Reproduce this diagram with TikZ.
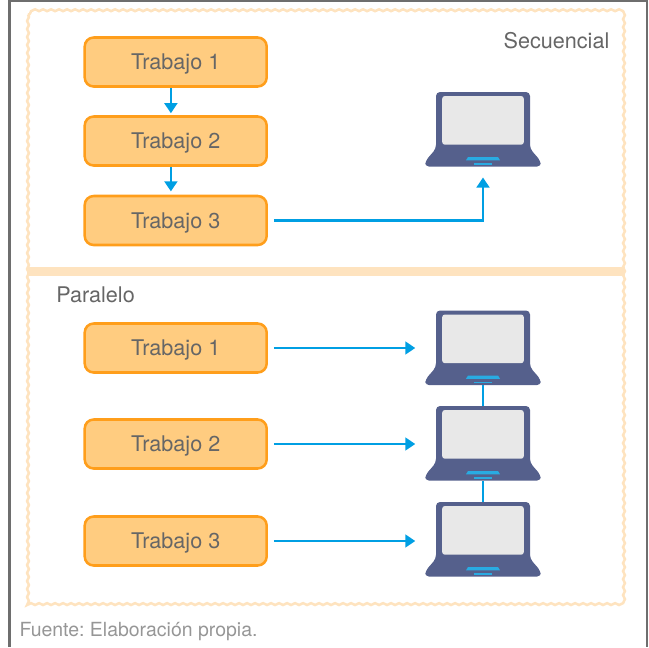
\documentclass[tikz,border=0pt]{standalone}
\usepackage{fontspec}
\setmainfont{TeX Gyre Heros}
\usetikzlibrary{arrows.meta,decorations.pathmorphing}
\definecolor{framegray}{HTML}{6E6E6E}
\definecolor{textgray}{HTML}{666666}
\definecolor{notegray}{HTML}{969696}
\definecolor{palepeach}{HTML}{FEE3BF}
\definecolor{boxfill}{HTML}{FFCC80}
\definecolor{boxline}{HTML}{FF9E1B}
\definecolor{flowblue}{HTML}{009FE3}
\definecolor{padblue}{HTML}{29ABE2}
\definecolor{lapblue}{HTML}{55608C}
\definecolor{lapscreen}{HTML}{E8E8E8}
\tikzset{
	trabajo/.style = {draw=boxline, fill=boxfill, line width=1.9pt, rounded corners=6.75pt, minimum width=136.5pt, minimum height=36.75pt, inner sep=0pt, text=textgray, text height=11.6pt, text depth=0pt, font=\fontsize{16.2}{18}\selectfont},
	rotulo/.style = {inner sep=0pt, text=textgray, font=\fontsize{16.2}{18}\selectfont},
	flow/.style = {draw=flowblue, line width=1.9pt, -{Triangle[length=7.5pt, width=9.5pt]}},
	wavy/.style = {draw=palepeach, line width=1.9pt, decorate, decoration={snake, amplitude=0.7pt, segment length=6pt}},
	laptop/.pic = {
		\fill[lapblue, rounded corners=3pt] (-47, 19.2) -- (-47, -37.5) -- (47, -37.5) -- (47, 19.2) -- (57.7, 31.5) -- (57.7, 37.2) -- (-57.7, 37.2) -- (-57.7, 31.5) -- cycle;
		\fill[lapscreen, rounded corners=2pt] (-40.8, -33.5) rectangle (40.8, 15.2);
		\fill[padblue] (-15, 27.5) -- (15, 27.5) -- (17, 30.8) -- (-17, 30.8) -- cycle;
		\fill[padblue] (-9, 33.5) rectangle (9, 35.2);
		\node (-box) [minimum width=86.55pt, minimum height=56pt, inner sep=0pt, outer sep=0pt] at (0, 0) {};
	}
}

\begin{document}
\begin{tikzpicture}[x=0.75pt, y=-0.75pt]
	\useasboundingbox (0, 0) rectangle (649, 647);
	\draw [framegray, line width=1.9pt] (9.5, 647) -- (9.5, 1) -- (647, 1) -- (647, 647);
	\draw [wavy] (28, 14.5) rectangle (624.5, 604.5);
	\fill [palepeach] (27, 267) rectangle (625, 276);
	% secuencial
	\node [rotulo] (secuencial) at (556.5, 41) {Secuencial};
	\node [trabajo] (seqA) at (175.7, 62) {Trabajo 1};
	\node [trabajo] (seqB) at (175.7, 141) {Trabajo 2};
	\node [trabajo] (seqC) at (175.7, 220.5) {Trabajo 3};
	\pic (lapS) at (483, 129.5) {laptop};
	\draw [flow, shorten >=1.5pt] ([xshift=-3.6pt]seqA.south) -- ([xshift=-3.6pt]seqB.north);
	\draw [flow, shorten >=2.5pt] ([xshift=-3.6pt]seqB.south) -- ([xshift=-3.6pt]seqC.north);
	\draw [flow, shorten <=4.5pt, shorten >=8pt] (seqC.east) -| (lapS-box.south);
	% paralelo
	\node [rotulo] (paralelo) at (95.5, 295) {Paralelo};
	\node [trabajo] (parA) at (175.7, 348) {Trabajo 1};
	\node [trabajo] (parB) at (175.7, 444) {Trabajo 2};
	\node [trabajo] (parC) at (175.7, 541) {Trabajo 3};
	\pic (lapA) at (483, 348) {laptop};
	\pic (lapB) at (483, 443.5) {laptop};
	\pic (lapC) at (483, 539.5) {laptop};
	\draw [flow, shorten <=4.5pt, shorten >=7.5pt] (parA.east) -- (parA.east -| lapA-box.west);
	\draw [flow, shorten <=4.5pt, shorten >=7.5pt] (parB.east) -- (parB.east -| lapB-box.west);
	\draw [flow, shorten <=4.5pt, shorten >=7.5pt] (parC.east) -- (parC.east -| lapC-box.west);
	\draw [flowblue, line width=1.9pt] (lapA-box.south) -- (lapB-box.north);
	\draw [flowblue, line width=1.9pt] (lapB-box.south) -- (lapC-box.north);
	\node [inner sep=0pt, text=notegray, font=\fontsize{14.6}{15}\selectfont] (fuente) at (138.5, 632) {Fuente:\ Elaboración propia.};
\end{tikzpicture}
\end{document}
